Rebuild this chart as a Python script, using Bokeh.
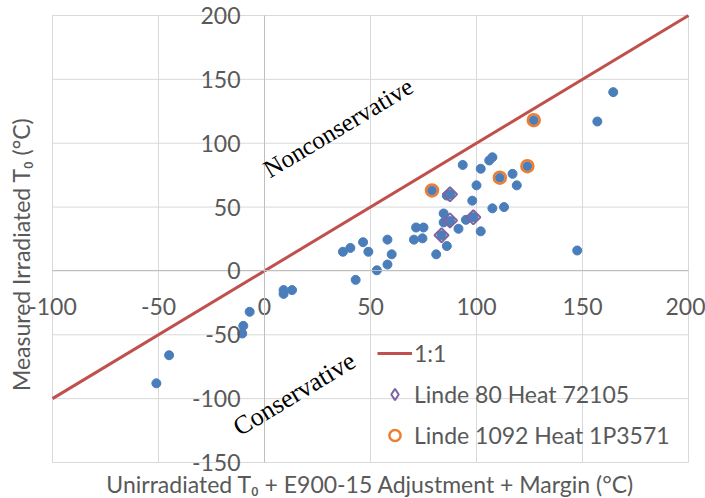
import numpy as np
from bokeh.plotting import figure
from bokeh.models import Range1d, FixedTicker, Label, Legend, LegendItem
from bokeh.embed import file_html
from bokeh.resources import INLINE

# ---- data ----
x_ticks = [-100, -50, 0, 50, 100, 150, 200]
y_ticks = [-150, -100, -50, 0, 50, 100, 150, 200]

all_x = [-51, -45, -10.5, -10, -7, 9, 9, 13, 37, 40.5, 46.5, 49, 43, 58, 60, 58, 53,
         71.5, 75, 70.5, 74.5, 81, 86, 84.5, 84.5, 87.5, 91.5, 83.5, 79, 86, 87.5,
         93.5, 102, 106, 107.5, 111, 117, 119, 124, 127, 157, 164.5, 100, 98, 107.5,
         113, 95, 98.5, 102, 147.5]
all_y = [-88, -66, -49, -43, -32, -15, -18, -15, 15, 18, 22.5, 15, -7, 24.5, 13, 5, 0.5,
         34, 34, 24.5, 25.5, 13, 19.5, 45, 38, 39, 33, 28, 63, 59, 60,
         83, 80, 86.5, 89, 73, 76, 67, 82, 118, 117, 140, 67, 55, 49,
         50, 40, 42, 31, 16]

linde80_x = [83.5, 87.5, 87.5, 98.5]
linde80_y = [28, 60, 39.5, 42]

linde1092_x = [79, 111, 124, 127]
linde1092_y = [63, 73, 82, 118]

one_to_one = [-100, 200]

x_title = "Unirradiated T\u2080 + E900-15 Adjustment + Margin (\u00b0C)"
y_title = "Measured Irradiated T\u2080 (\u00b0C)"

# ---- layout (pixel box of the plot area inside the 705x498 canvas) ----
W, H = 705, 498
BOX_L, BOX_R, BOX_T, BOX_B = 52, 688, 15, 462
xs = (BOX_R - BOX_L) / (x_ticks[-1] - x_ticks[0])
ys = (BOX_B - BOX_T) / (y_ticks[-1] - y_ticks[0])
x_rng = Range1d(x_ticks[0] - BOX_L / xs, x_ticks[-1] + (W - BOX_R) / xs)
y_rng = Range1d(y_ticks[0] - (H - BOX_B) / ys, y_ticks[-1] + BOX_T / ys)

p = figure(width=W, height=H, output_backend="svg", toolbar_location=None,
           x_range=x_rng, y_range=y_rng,
           min_border_left=0, min_border_right=0, min_border_top=0,
           min_border_bottom=0)
p.outline_line_color = None
p.background_fill_color = "white"
p.border_fill_color = "white"
p.grid.visible = False

FONT = "Lato"
GRAY = "#595959"
FS = "23px"

for ax, ticks in ((p.xaxis, x_ticks), (p.yaxis, y_ticks)):
    ax.ticker = FixedTicker(ticks=ticks)
    ax.bounds = (ticks[0], ticks[-1])
    ax.fixed_location = 0
    ax.major_label_overrides = {t: str(t) for t in ticks}
    ax.axis_line_color = "#bfbfbf"
    ax.axis_line_width = 1
    ax.major_tick_out = 0
    ax.major_tick_in = 0
    ax.minor_tick_out = 0
    ax.minor_tick_in = 0
    ax.major_label_text_font = FONT
    ax.major_label_text_font_size = FS
    ax.major_label_text_color = GRAY
p.xaxis.major_label_standoff = 27
p.yaxis.major_label_standoff = 24

# grid lines (bounded to the plot box)
p.segment(x0=x_ticks, y0=[y_ticks[0]] * len(x_ticks), x1=x_ticks,
          y1=[y_ticks[-1]] * len(x_ticks), line_color="#d9d9d9", line_width=1)
p.segment(x0=[x_ticks[0]] * len(y_ticks), y0=y_ticks, x1=[x_ticks[-1]] * len(y_ticks),
          y1=y_ticks, line_color="#d9d9d9", line_width=1)

# ---- glyphs ----
r_line = p.line(one_to_one, one_to_one, line_color="#c0504d", line_width=3)
p.scatter(all_x, all_y, size=9, fill_color="#4a7ebb", line_color="#4a7ebb")
p.scatter(linde80_x, linde80_y, marker="square", angle=np.pi / 4, size=10,
          fill_color=None, line_color="#8064a2", line_width=2)
# legend symbol for the Linde 80 series (diamond shape)
r_80_leg = p.scatter(linde80_x, linde80_y, marker="diamond", fill_color=None,
                     line_color="#8064a2", line_width=2, visible=False)
r_1092 = p.scatter(linde1092_x, linde1092_y, marker="circle", size=12,
                   fill_color=None, line_color="#ed7d31", line_width=2.5)

legend = Legend(items=[LegendItem(label="1:1", renderers=[r_line]),
                       LegendItem(label="Linde 80 Heat 72105", renderers=[r_80_leg]),
                       LegendItem(label="Linde 1092 Heat 1P3571", renderers=[r_1092])],
                location=(377, 49), padding=0, margin=0, spacing=13,
                glyph_width=35, glyph_height=28, label_standoff=2,
                label_text_font=FONT, label_text_font_size=FS,
                label_text_color=GRAY, border_line_color=None,
                background_fill_alpha=0, inactive_fill_alpha=0)
p.add_layout(legend)

ang = np.deg2rad(31)
p.add_layout(Label(x=0.5, y=78, text="Nonconservative", angle=ang,
                   text_font="Liberation Serif", text_font_size="25px",
                   text_color="black", text_baseline="alphabetic"))
p.add_layout(Label(x=-13.7, y=-124, text="Conservative", angle=ang,
                   text_font="Liberation Serif", text_font_size="26px",
                   text_color="black", text_baseline="alphabetic"))

p.add_layout(Label(x=50, y=-150, y_offset=-21, text=x_title, text_align="center",
                   text_baseline="middle", text_font=FONT, text_font_size=FS,
                   text_color=GRAY))
p.add_layout(Label(x=-100, x_offset=-32, y=13, text=y_title, text_align="center",
                   text_baseline="middle", angle=np.pi / 2, text_font=FONT,
                   text_font_size=FS, text_color=GRAY))

open("out.html", "w").write(file_html(p, INLINE))
